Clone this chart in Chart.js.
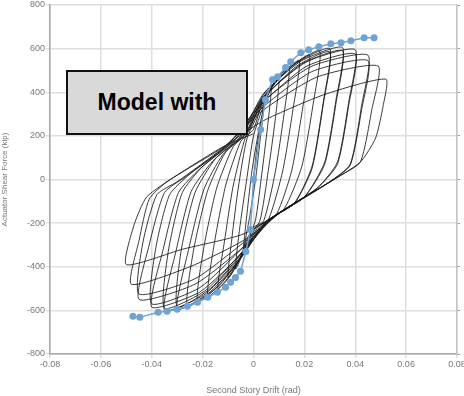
<!DOCTYPE html>
<html>
<head>
<meta charset="utf-8">
<script src="https://cdn.jsdelivr.net/npm/chart.js@4"></script>
<style>
    html, body { margin: 0; padding: 0; background: #fff; }
    #wrap { position: relative; width: 464px; height: 396px; }
    #note {
        position: absolute; left: 66px; top: 70px; width: 178px; height: 61px;
        border: 2px solid #111; background: #d9d9d9;
        font: bold 23px "Liberation Sans", Arial, sans-serif; color: #000;
        display: flex; align-items: center; justify-content: center;
    }
</style>
</head>
<body>
<div id="wrap">
    <canvas id="hysteresisChart" width="464" height="396"></canvas>
    <div id="note">Model with</div>
</div>
<script>
// Tick labels
const xTickLabels = ['-0.08', '-0.06', '-0.04', '-0.02', '0', '0.02', '0.04', '0.06', '0.08'];
const yTickLabels = ['-800', '-600', '-400', '-200', '0', '200', '400', '600', '800'];

// Measured hysteresis loops (drift rad, force kip), one continuous path
const testLoops = [
    [0, 0], [0.0015, 160], [0.004, 330],
    [0.0025, 170], [0.0008, 0], [-0.0015, -170], [-0.004, -320],
    [-0.0025, -150], [-0.0006, 40], [0.002, 220], [0.0045, 350], [0.007, 420],
    [0.0055, 240], [0.0032, 20], [0.0008, -185], [-0.0025, -290], [-0.007, -410],
    [-0.0055, -230], [-0.0028, -10], [0, 200], [0.004, 340], [0.007, 420], [0.01, 460],
    [0.0085, 270], [0.0058, 40], [0.0025, -190], [-0.002, -260], [-0.006, -380], [-0.01, -450],
    [-0.0085, -270], [-0.006, -40], [-0.0025, 190], [0.004, 350], [0.009, 460], [0.014, 510],
    [0.012, 300], [0.0085, 30], [0.004, -190], [0, -220], [-0.004, -330], [-0.009, -440], [-0.014, -500],
    [-0.0115, -290], [-0.008, -30], [-0.003, 200], [0.004, 360], [0.011, 485], [0.018, 545],
    [0.0155, 320], [0.0115, 40], [0.006, -180], [0.001, -220], [-0.004, -335], [-0.011, -465], [-0.018, -535],
    [-0.0155, -300], [-0.011, -30], [-0.005, 175], [0, 230], [0.004, 370], [0.013, 500], [0.022, 570],
    [0.0195, 340], [0.015, 40], [0.009, -160], [0.002, -215], [-0.004, -340], [-0.013, -480], [-0.022, -560],
    [-0.0195, -310], [-0.0145, -40], [-0.008, 150], [-0.002, 220], [0.004, 380], [0.015, 520], [0.026, 590],
    [0.0235, 350], [0.019, 60], [0.012, -135], [0.003, -210], [-0.004, -345], [-0.015, -500], [-0.026, -580],
    [-0.0235, -320], [-0.018, -50], [-0.011, 125], [-0.003, 215], [0.004, 390], [0.017, 535], [0.03, 600],
    [0.0275, 360], [0.023, 60], [0.016, -110], [0.005, -192], [-0.004, -345], [-0.017, -515], [-0.03, -595],
    [-0.0255, -320], [-0.0195, -45], [-0.012, 115], [-0.003, 210], [0.004, 370], [0.017, 520], [0.03, 585],
    [0.0275, 350], [0.023, 50], [0.016, -110], [0.005, -192], [-0.004, -330], [-0.017, -500], [-0.03, -585],
    [-0.0285, -330], [-0.023, -60], [-0.015, 95], [-0.005, 200], [0.004, 395], [0.019, 545], [0.035, 605],
    [0.0325, 370], [0.028, 80], [0.02, -80], [0.006, -185], [-0.004, -340], [-0.019, -525], [-0.035, -600],
    [-0.0305, -330], [-0.0245, -55], [-0.016, 85], [-0.005, 195], [0.004, 375], [0.019, 530], [0.035, 590],
    [0.0325, 355], [0.028, 70], [0.02, -80], [0.006, -185], [-0.004, -325], [-0.019, -510], [-0.035, -590],
    [-0.0335, -330], [-0.028, -60], [-0.02, 60], [-0.007, 185], [0.004, 380], [0.021, 540], [0.04, 595],
    [0.0375, 360], [0.033, 80], [0.025, -40], [0.008, -170], [-0.004, -330], [-0.021, -515], [-0.04, -585],
    [-0.0355, -320], [-0.0295, -60], [-0.021, 50], [-0.008, 175], [0.004, 355], [0.021, 520], [0.04, 575],
    [0.0375, 345], [0.033, 70], [0.025, -40], [0.008, -170], [-0.004, -310], [-0.021, -495], [-0.04, -570],
    [-0.0385, -320], [-0.033, -70], [-0.025, 25], [-0.01, 160], [0.004, 360], [0.023, 520], [0.045, 570],
    [0.0425, 340], [0.038, 70], [0.03, -10], [0.01, -155], [-0.004, -310], [-0.023, -480], [-0.045, -550],
    [-0.041, -300], [-0.035, -60], [-0.027, 10], [-0.011, 150], [0.004, 335], [0.023, 495], [0.045, 545],
    [0.0425, 320], [0.038, 65], [0.03, -10], [0.01, -155], [-0.004, -290], [-0.023, -455], [-0.045, -525],
    [-0.0435, -290], [-0.038, -70], [-0.03, -10], [-0.012, 145], [0.004, 320], [0.025, 470], [0.049, 520],
    [0.0465, 320], [0.042, 80], [0.034, 17], [0.012, -140], [-0.004, -280], [-0.025, -400], [-0.048, -480],
    [-0.045, -280], [-0.041, -90], [-0.034, -10], [-0.015, 125], [0.004, 270], [0.028, 390], [0.052, 460],
    [0.051, 340], [0.048, 190], [0.042, 80], [0.03, -12], [0.015, -120], [-0.004, -250], [-0.028, -320], [-0.05, -390],
    [-0.047, -210], [-0.042, -80], [-0.03, 20], [-0.012, 150], [0, 210]
];

// Model backbone (blue markers)
const modelDrift = [-0.0474, -0.0447, -0.0375, -0.034, -0.030, -0.026, -0.022, -0.018, -0.0142, -0.011, -0.009, -0.0071, -0.0051, -0.003, -0.0012,
    0, 0.0028, 0.0047, 0.0075, 0.0095, 0.0126, 0.0146, 0.0186, 0.0217, 0.0257, 0.0304, 0.0344, 0.0383, 0.0435, 0.0474];
const modelForce = [-627, -632, -609, -604, -595, -581, -563, -540, -517, -494, -471, -449, -421, -330, -229,
    0, 229, 366, 458, 471, 513, 540, 581, 595, 609, 622, 627, 636, 650, 650];

document.addEventListener('DOMContentLoaded', function() {
    initHysteresisChart();
});

function initHysteresisChart() {
    const ctx = document.getElementById('hysteresisChart');
    if (!ctx) return;

    const tickFont = { family: 'Liberation Sans', size: 9 };
    const gridColor = '#dedede';

    new Chart(ctx, {
        type: 'scatter',
        data: {
            datasets: [
                {
                    label: 'Model',
                    data: modelDrift.map((d, i) => ({ x: d, y: modelForce[i] })),
                    showLine: true,
                    borderColor: '#6fa3d6',
                    backgroundColor: '#6fa3d6',
                    borderWidth: 1.5,
                    pointRadius: 3.5,
                    pointBorderWidth: 0,
                    tension: 0
                },
                {
                    label: 'Test',
                    data: testLoops.map(p => ({ x: p[0], y: p[1] })),
                    showLine: true,
                    borderColor: 'rgba(25, 25, 25, 0.85)',
                    borderWidth: 1,
                    pointRadius: 0,
                    tension: 0.2
                }
            ]
        },
        options: {
            responsive: false,
            animation: false,
            layout: { padding: { top: 5, right: 3, left: 0, bottom: 0 } },
            plugins: {
                legend: { display: false },
                tooltip: { enabled: false }
            },
            scales: {
                x: {
                    type: 'linear',
                    min: -0.08,
                    max: 0.08,
                    ticks: {
                        stepSize: 0.02,
                        color: '#777',
                        font: tickFont,
                        padding: 1,
                        maxRotation: 0,
                        callback: (value, index) => xTickLabels[index]
                    },
                    grid: { color: gridColor, lineWidth: 1.5, tickLength: 4 },
                    border: { color: '#a8a8a8', width: 1.5 },
                    title: {
                        display: true,
                        text: 'Second Story Drift (rad)',
                        color: '#777',
                        font: { family: 'Liberation Sans', size: 9 },
                        padding: { top: 4, bottom: 0 }
                    },
                    afterFit: (scale) => {
                        scale.height = 42;
                        scale.paddingLeft = 0;
                        scale.paddingRight = 0;
                    }
                },
                y: {
                    min: -800,
                    max: 800,
                    ticks: {
                        stepSize: 200,
                        color: '#777',
                        font: tickFont,
                        padding: 1,
                        callback: (value, index) => yTickLabels[index]
                    },
                    grid: { color: gridColor, lineWidth: 1.5, tickLength: 4 },
                    border: { color: '#a8a8a8', width: 1.5 },
                    title: {
                        display: true,
                        text: 'Actuator Shear Force (kip)',
                        color: '#777',
                        font: { family: 'Liberation Sans', size: 8 },
                        padding: { top: 0, bottom: 2 }
                    },
                    afterFit: (scale) => {
                        scale.width = 50;
                        scale.paddingTop = 0;
                        scale.paddingBottom = 0;
                    }
                },
                yRight: {
                    position: 'right',
                    min: -800,
                    max: 800,
                    ticks: { stepSize: 200, display: false },
                    grid: { drawOnChartArea: false, color: '#999', tickLength: 3 },
                    border: { color: '#c4c4c4', width: 1.5 },
                    afterFit: (scale) => {
                        scale.width = 4;
                        scale.paddingTop = 0;
                        scale.paddingBottom = 0;
                    }
                }
            }
        }
    });
}
</script>
</body>
</html>
